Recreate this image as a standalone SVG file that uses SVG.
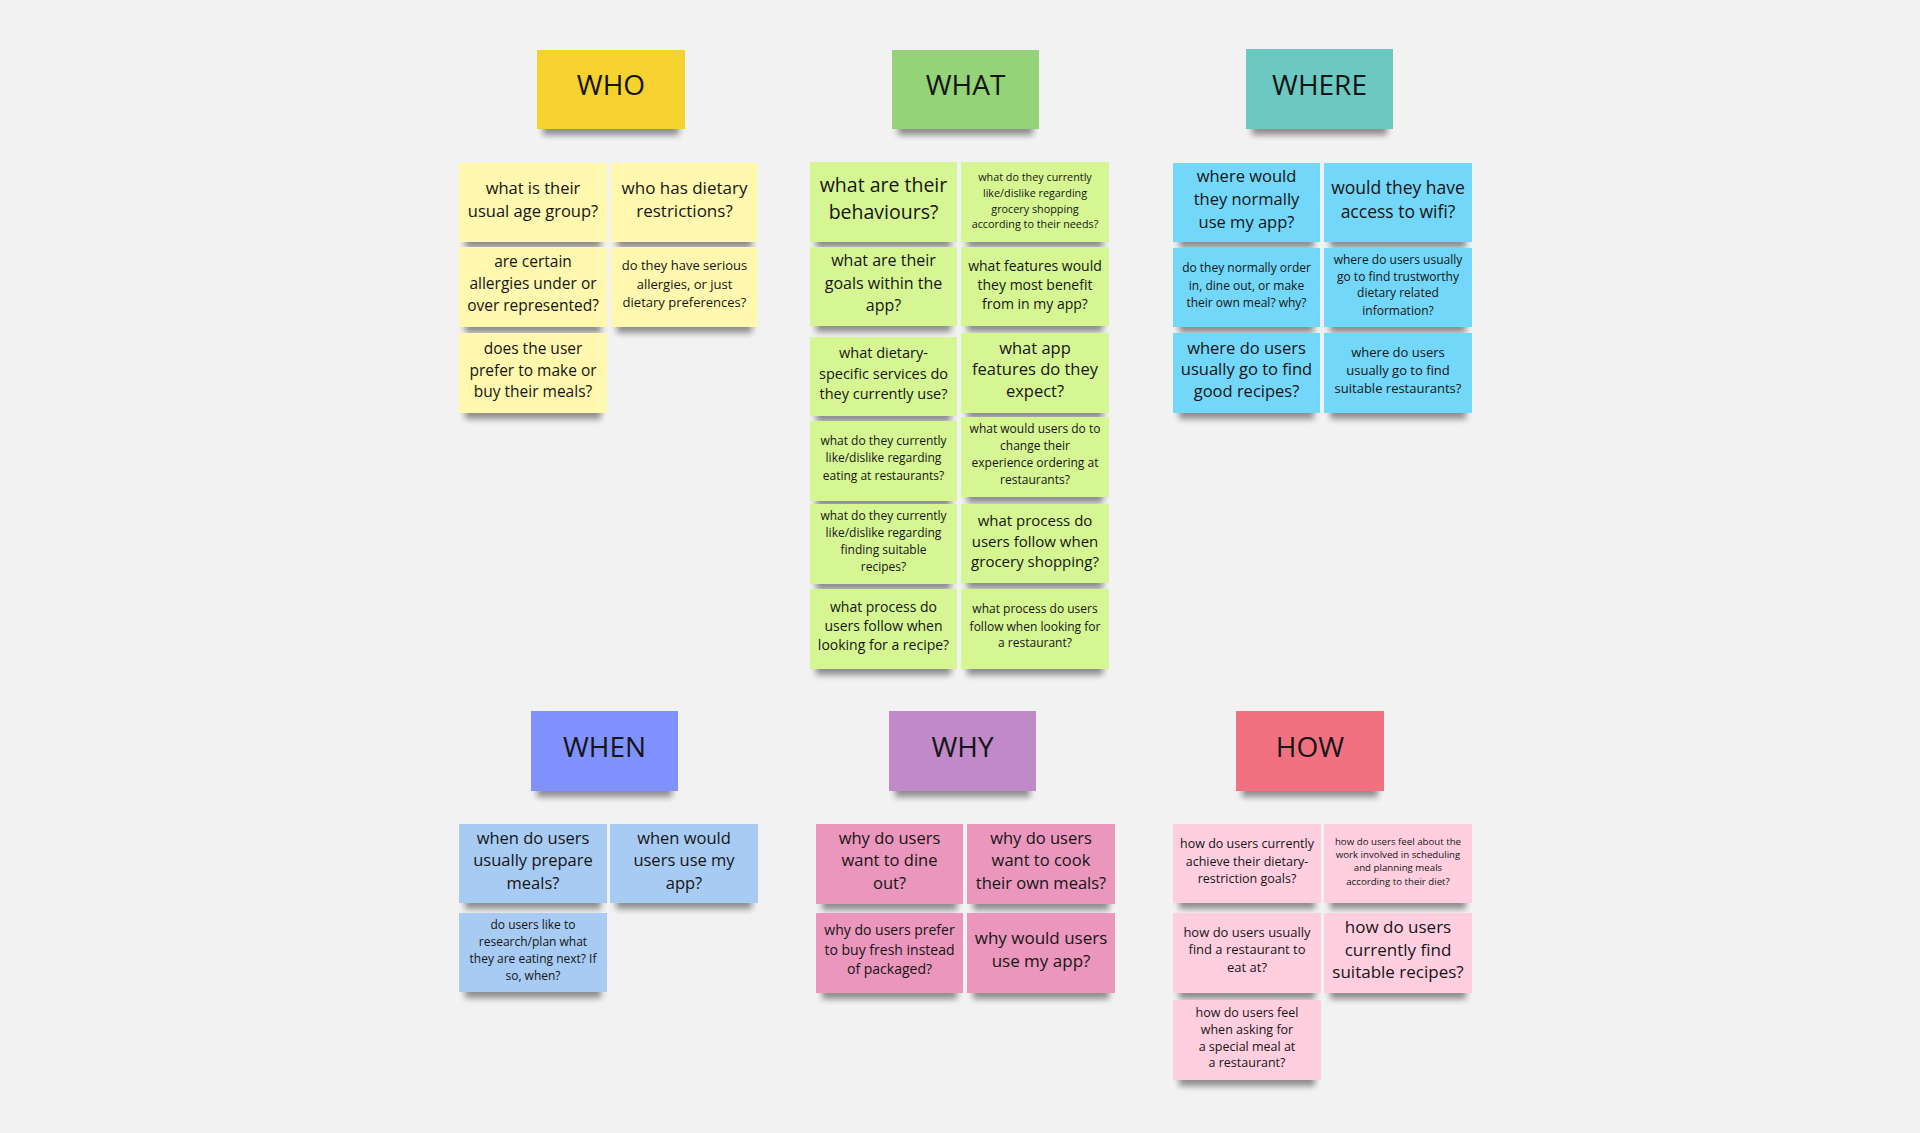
<svg xmlns="http://www.w3.org/2000/svg" width="1920" height="1133" viewBox="0 0 1920 1133">
<defs>
<filter id="blur" x="-20%" y="-100%" width="140%" height="300%"><feGaussianBlur stdDeviation="3.2"/></filter>
<style>
text{font-family:"Open Sans","Liberation Sans",sans-serif;fill:#151515;text-anchor:middle}
.sh{fill:#000;opacity:.42;filter:url(#blur)}
.hd{font-size:28px}
.who-h{fill:#f6d22e}.who{fill:#fff8ae}
.what-h{fill:#94d377}.what{fill:#d6f593}
.where-h{fill:#6cc9c1}.where{fill:#72d7f8}
.when-h{fill:#8092ff}.when{fill:#a7cbf3}
.why-h{fill:#c08ac9}.why{fill:#eb96bd}
.how-h{fill:#f27181}.how{fill:#ffcfe0}
</style>
</defs>
<rect width="1920" height="1133" fill="#f2f2f2"/>
<g id="connectors"/>

<!-- WHO -->
<g id="who-header"><rect class="sh" x="543" y="119" width="136" height="16"/><rect class="who-h" x="537" y="50" width="148" height="79"/><text class="hd" x="611" y="95">WHO</text></g>
<g id="who-1"><rect class="sh" x="465" y="232" width="136" height="16"/><rect class="who" x="459" y="163" width="148" height="79"/><text font-size="16.5"><tspan x="533" y="193.8">what is their</tspan><tspan x="533" y="217">usual age group?</tspan></text></g>
<g id="who-2"><rect class="sh" x="617" y="232" width="135" height="16"/><rect class="who" x="611" y="163" width="147" height="79"/><text font-size="17"><tspan x="684.5" y="194">who has dietary</tspan><tspan x="684.5" y="217.3">restrictions?</tspan></text></g>
<g id="who-3"><rect class="sh" x="465" y="317" width="136" height="16"/><rect class="who" x="459" y="247" width="148" height="80"/><text font-size="15.5"><tspan x="533" y="267.3">are certain</tspan><tspan x="533" y="289">allergies under or</tspan><tspan x="533" y="311">over represented?</tspan></text></g>
<g id="who-4"><rect class="sh" x="617" y="317" width="135" height="16"/><rect class="who" x="611" y="247" width="147" height="80"/><text font-size="13"><tspan x="684.5" y="270.3">do they have serious</tspan><tspan x="684.5" y="288.6">allergies, or just</tspan><tspan x="684.5" y="307">dietary preferences?</tspan></text></g>
<g id="who-5"><rect class="sh" x="465" y="403" width="136" height="16"/><rect class="who" x="459" y="333" width="148" height="80"/><text font-size="15.5"><tspan x="533" y="354.3">does the user</tspan><tspan x="533" y="375.7">prefer to make or</tspan><tspan x="533" y="396.7">buy their meals?</tspan></text></g>

<!-- WHAT -->
<g id="what-header"><rect class="sh" x="898" y="119" width="135" height="16"/><rect class="what-h" x="892" y="50" width="147" height="79"/><text class="hd" x="965.5" y="95">WHAT</text></g>
<g id="what-1"><rect class="sh" x="816" y="232" width="135" height="16"/><rect class="what" x="810" y="162" width="147" height="80"/><text font-size="19.5"><tspan x="883.5" y="192">what are their</tspan><tspan x="883.5" y="219">behaviours?</tspan></text></g>
<g id="what-2"><rect class="sh" x="967" y="232" width="136" height="16"/><rect class="what" x="961" y="162" width="148" height="80"/><text font-size="10.8"><tspan x="1035" y="180.8">what do they currently</tspan><tspan x="1035" y="196.8">like/dislike regarding</tspan><tspan x="1035" y="212.5">grocery shopping</tspan><tspan x="1035" y="227.8">according to their needs?</tspan></text></g>
<g id="what-3"><rect class="sh" x="816" y="316" width="135" height="16"/><rect class="what" x="810" y="247" width="147" height="79"/><text font-size="16"><tspan x="883.5" y="266.3">what are their</tspan><tspan x="883.5" y="288.6">goals within the</tspan><tspan x="883.5" y="311">app?</tspan></text></g>
<g id="what-4"><rect class="sh" x="967" y="316" width="136" height="16"/><rect class="what" x="961" y="247" width="148" height="79"/><text font-size="14"><tspan x="1035" y="270.6">what features would</tspan><tspan x="1035" y="289.6">they most benefit</tspan><tspan x="1035" y="309">from in my app?</tspan></text></g>
<g id="what-5"><rect class="sh" x="816" y="406" width="135" height="16"/><rect class="what" x="810" y="337" width="147" height="79"/><text font-size="14.5"><tspan x="883.5" y="358">what dietary-</tspan><tspan x="883.5" y="379">specific services do</tspan><tspan x="883.5" y="399">they currently use?</tspan></text></g>
<g id="what-6"><rect class="sh" x="967" y="403" width="136" height="16"/><rect class="what" x="961" y="333" width="148" height="80"/><text font-size="16.5"><tspan x="1035" y="353.7">what app</tspan><tspan x="1035" y="375.4">features do they</tspan><tspan x="1035" y="397">expect?</tspan></text></g>
<g id="what-7"><rect class="sh" x="816" y="491" width="135" height="16"/><rect class="what" x="810" y="421" width="147" height="80"/><text font-size="12"><tspan x="883.5" y="445">what do they currently</tspan><tspan x="883.5" y="462.3">like/dislike regarding</tspan><tspan x="883.5" y="479.7">eating at restaurants?</tspan></text></g>
<g id="what-8"><rect class="sh" x="967" y="487" width="136" height="16"/><rect class="what" x="961" y="417" width="148" height="80"/><text font-size="12"><tspan x="1035" y="433.3">what would users do to</tspan><tspan x="1035" y="450">change their</tspan><tspan x="1035" y="467">experience ordering at</tspan><tspan x="1035" y="484">restaurants?</tspan></text></g>
<g id="what-9"><rect class="sh" x="816" y="574" width="135" height="16"/><rect class="what" x="810" y="504" width="147" height="80"/><text font-size="12"><tspan x="883.5" y="520">what do they currently</tspan><tspan x="883.5" y="536.7">like/dislike regarding</tspan><tspan x="883.5" y="554">finding suitable</tspan><tspan x="883.5" y="571.3">recipes?</tspan></text></g>
<g id="what-10"><rect class="sh" x="967" y="573" width="136" height="16"/><rect class="what" x="961" y="504" width="148" height="79"/><text font-size="15"><tspan x="1035" y="526">what process do</tspan><tspan x="1035" y="546.7">users follow when</tspan><tspan x="1035" y="567.3">grocery shopping?</tspan></text></g>
<g id="what-11"><rect class="sh" x="816" y="659" width="135" height="16"/><rect class="what" x="810" y="589" width="147" height="80"/><text font-size="14"><tspan x="883.5" y="612.3">what process do</tspan><tspan x="883.5" y="630.6">users follow when</tspan><tspan x="883.5" y="649.6">looking for a recipe?</tspan></text></g>
<g id="what-12"><rect class="sh" x="967" y="659" width="136" height="16"/><rect class="what" x="961" y="589" width="148" height="80"/><text font-size="12"><tspan x="1035" y="613.3">what process do users</tspan><tspan x="1035" y="630.7">follow when looking for</tspan><tspan x="1035" y="647.3">a restaurant?</tspan></text></g>

<!-- WHERE -->
<g id="where-header"><rect class="sh" x="1252" y="119" width="135" height="16"/><rect class="where-h" x="1246" y="49" width="147" height="80"/><text class="hd" x="1319.5" y="95">WHERE</text></g>
<g id="where-1"><rect class="sh" x="1179" y="232" width="135" height="16"/><rect class="where" x="1173" y="163" width="147" height="79"/><text font-size="16.5"><tspan x="1246.5" y="182">where would</tspan><tspan x="1246.5" y="205.4">they normally</tspan><tspan x="1246.5" y="228">use my app?</tspan></text></g>
<g id="where-2"><rect class="sh" x="1330" y="232" width="136" height="16"/><rect class="where" x="1324" y="163" width="148" height="79"/><text font-size="17.5"><tspan x="1398" y="193.5">would they have</tspan><tspan x="1398" y="217.5">access to wifi?</tspan></text></g>
<g id="where-3"><rect class="sh" x="1179" y="317" width="135" height="16"/><rect class="where" x="1173" y="248" width="147" height="79"/><text font-size="12"><tspan x="1246.5" y="272.3">do they normally order</tspan><tspan x="1246.5" y="289.7">in, dine out, or make</tspan><tspan x="1246.5" y="306.7">their own meal? why?</tspan></text></g>
<g id="where-4"><rect class="sh" x="1330" y="317" width="136" height="16"/><rect class="where" x="1324" y="248" width="148" height="79"/><text font-size="12"><tspan x="1398" y="264">where do users usually</tspan><tspan x="1398" y="280.7">go to find trustworthy</tspan><tspan x="1398" y="297.3">dietary related</tspan><tspan x="1398" y="314.7">information?</tspan></text></g>
<g id="where-5"><rect class="sh" x="1179" y="403" width="135" height="16"/><rect class="where" x="1173" y="333" width="147" height="80"/><text font-size="16.5"><tspan x="1246.5" y="353.7">where do users</tspan><tspan x="1246.5" y="375.4">usually go to find</tspan><tspan x="1246.5" y="397">good recipes?</tspan></text></g>
<g id="where-6"><rect class="sh" x="1330" y="403" width="136" height="16"/><rect class="where" x="1324" y="333" width="148" height="80"/><text font-size="13"><tspan x="1398" y="357">where do users</tspan><tspan x="1398" y="375">usually go to find</tspan><tspan x="1398" y="393.3">suitable restaurants?</tspan></text></g>

<!-- WHEN -->
<g id="when-header"><rect class="sh" x="537" y="781" width="135" height="16"/><rect class="when-h" x="531" y="711" width="147" height="80"/><text class="hd" x="604.5" y="757">WHEN</text></g>
<g id="when-1"><rect class="sh" x="465" y="893" width="136" height="16"/><rect class="when" x="459" y="824" width="148" height="79"/><text font-size="16.5"><tspan x="533" y="844.4">when do users</tspan><tspan x="533" y="866.4">usually prepare</tspan><tspan x="533" y="888.7">meals?</tspan></text></g>
<g id="when-2"><rect class="sh" x="616" y="893" width="136" height="16"/><rect class="when" x="610" y="824" width="148" height="79"/><text font-size="16.5"><tspan x="684" y="844.4">when would</tspan><tspan x="684" y="866.4">users use my</tspan><tspan x="684" y="888.7">app?</tspan></text></g>
<g id="when-3"><rect class="sh" x="465" y="982" width="136" height="16"/><rect class="when" x="459" y="913" width="148" height="79"/><text font-size="12"><tspan x="533" y="929.3">do users like to</tspan><tspan x="533" y="945.7">research/plan what</tspan><tspan x="533" y="962.7">they are eating next? If</tspan><tspan x="533" y="979.7">so, when?</tspan></text></g>

<!-- WHY -->
<g id="why-header"><rect class="sh" x="895" y="781" width="135" height="16"/><rect class="why-h" x="889" y="711" width="147" height="80"/><text class="hd" x="962.5" y="757">WHY</text></g>
<g id="why-1"><rect class="sh" x="822" y="894" width="135" height="16"/><rect class="why" x="816" y="824" width="147" height="80"/><text font-size="16.5"><tspan x="889.5" y="844.4">why do users</tspan><tspan x="889.5" y="866.4">want to dine</tspan><tspan x="889.5" y="888.7">out?</tspan></text></g>
<g id="why-2"><rect class="sh" x="973" y="894" width="136" height="16"/><rect class="why" x="967" y="824" width="148" height="80"/><text font-size="16.5"><tspan x="1041" y="844.4">why do users</tspan><tspan x="1041" y="866.4">want to cook</tspan><tspan x="1041" y="888.7">their own meals?</tspan></text></g>
<g id="why-3"><rect class="sh" x="822" y="983" width="135" height="16"/><rect class="why" x="816" y="913" width="147" height="80"/><text font-size="14"><tspan x="889.5" y="935.3">why do users prefer</tspan><tspan x="889.5" y="954.6">to buy fresh instead</tspan><tspan x="889.5" y="974">of packaged?</tspan></text></g>
<g id="why-4"><rect class="sh" x="973" y="983" width="136" height="16"/><rect class="why" x="967" y="913" width="148" height="80"/><text font-size="17"><tspan x="1041" y="944">why would users</tspan><tspan x="1041" y="967.3">use my app?</tspan></text></g>

<!-- HOW -->
<g id="how-header"><rect class="sh" x="1242" y="781" width="136" height="16"/><rect class="how-h" x="1236" y="711" width="148" height="80"/><text class="hd" x="1310" y="757">HOW</text></g>
<g id="how-1"><rect class="sh" x="1179" y="893" width="136" height="16"/><rect class="how" x="1173" y="824" width="148" height="79"/><text font-size="12.5"><tspan x="1247" y="848.4">how do users currently</tspan><tspan x="1247" y="865.8">achieve their dietary-</tspan><tspan x="1247" y="883.1">restriction goals?</tspan></text></g>
<g id="how-2"><rect class="sh" x="1330" y="893" width="136" height="16"/><rect class="how" x="1324" y="824" width="148" height="79"/><text font-size="9.7"><tspan x="1398" y="844.8">how do users feel about the</tspan><tspan x="1398" y="858.1">work involved in scheduling</tspan><tspan x="1398" y="871.4">and planning meals</tspan><tspan x="1398" y="884.8">according to their diet?</tspan></text></g>
<g id="how-3"><rect class="sh" x="1179" y="983" width="136" height="16"/><rect class="how" x="1173" y="913" width="148" height="80"/><text font-size="13"><tspan x="1247" y="936.6">how do users usually</tspan><tspan x="1247" y="954.3">find a restaurant to</tspan><tspan x="1247" y="972">eat at?</tspan></text></g>
<g id="how-4"><rect class="sh" x="1330" y="983" width="136" height="16"/><rect class="how" x="1324" y="913" width="148" height="80"/><text font-size="17"><tspan x="1398" y="933.3">how do users</tspan><tspan x="1398" y="955.6">currently find</tspan><tspan x="1398" y="978.3">suitable recipes?</tspan></text></g>
<g id="how-5"><rect class="sh" x="1179" y="1070" width="136" height="16"/><rect class="how" x="1173" y="1000" width="148" height="80"/><text font-size="12.5"><tspan x="1247" y="1017.4">how do users feel</tspan><tspan x="1247" y="1034.1">when asking for</tspan><tspan x="1247" y="1050.8">a special meal at</tspan><tspan x="1247" y="1067.4">a restaurant?</tspan></text></g>
</svg>
